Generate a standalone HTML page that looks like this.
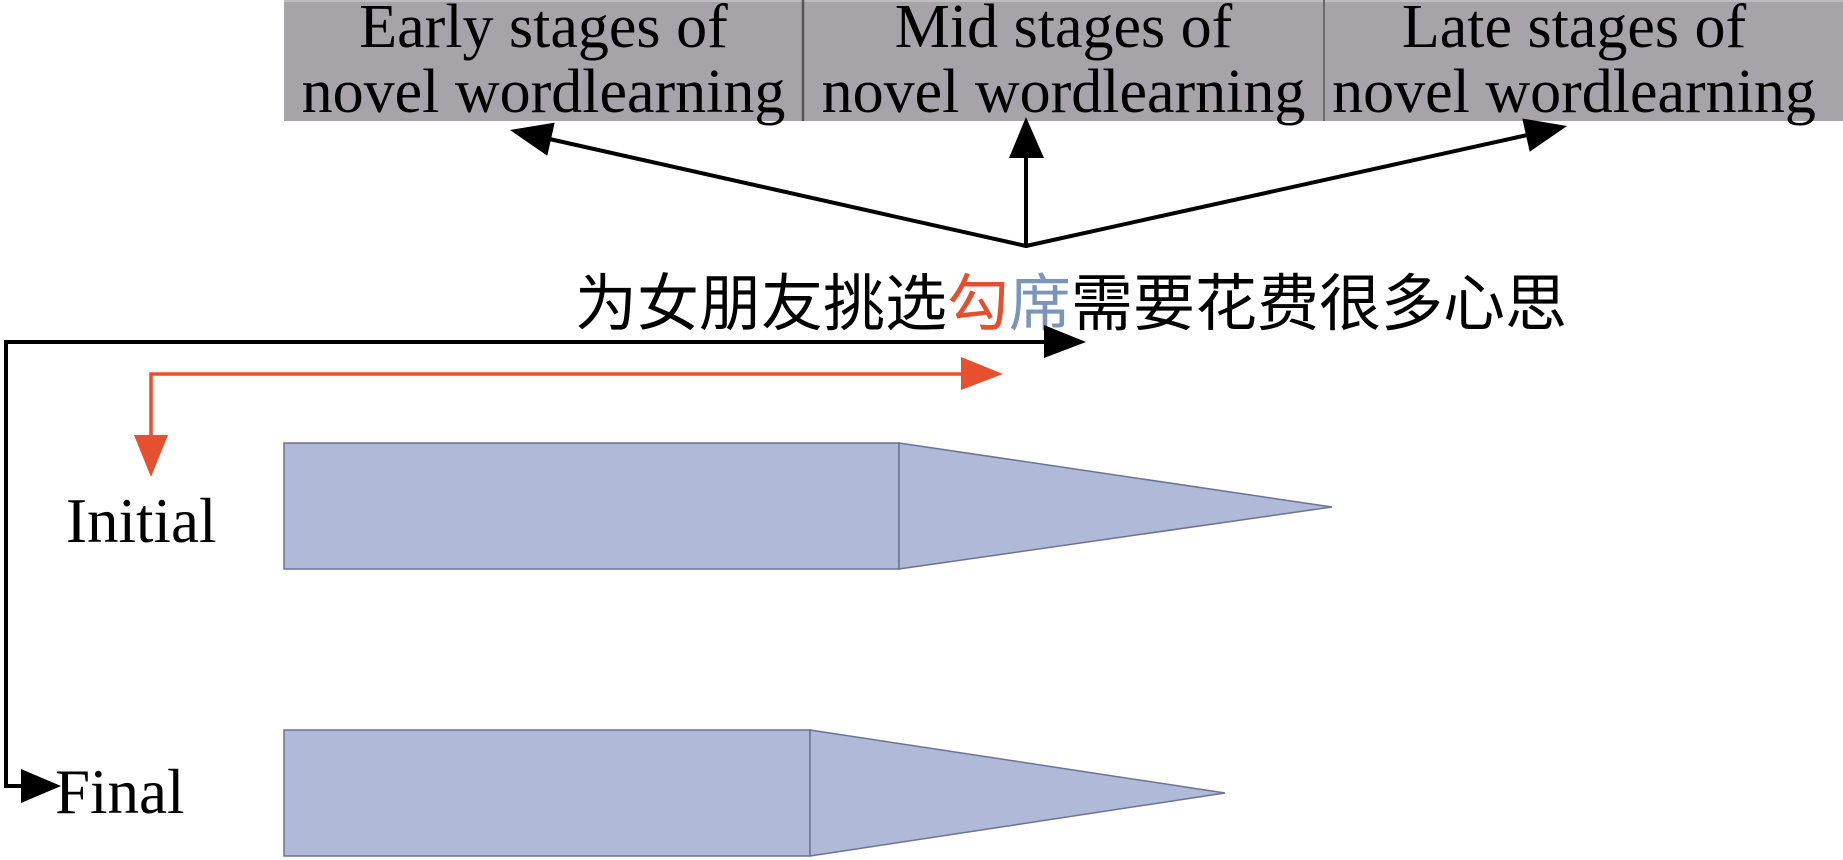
<!DOCTYPE html>
<html>
<head>
<meta charset="utf-8">
<style>
  html, body { margin:0; padding:0; background:#ffffff; }
  body { width:1843px; height:860px; overflow:hidden; }
  svg { display:block; }
  .lat { font-family: "Liberation Serif", "Times New Roman", serif; font-size:62px; fill:#000; }
  .cjk { font-family: "Liberation Sans", "Noto Sans CJK SC", "WenQuanYi Zen Hei", sans-serif; font-size:62px; fill:#000; }
</style>
</head>
<body>
<svg width="1843" height="860" viewBox="0 0 1843 860" xmlns="http://www.w3.org/2000/svg">
  <!-- Header gray band -->
  <rect x="284" y="0" width="1559" height="121" fill="#a6a4a9"/>
  <line x1="284" y1="1" x2="1843" y2="1" stroke="#bdbcc0" stroke-width="2"/>
  <line x1="803" y1="0" x2="803" y2="121" stroke="#55545a" stroke-width="2.5"/>
  <line x1="1324" y1="0" x2="1324" y2="121" stroke="#6a696e" stroke-width="2"/>

  <text class="lat" x="543.5" y="47" text-anchor="middle">Early stages of</text>
  <text class="lat" x="543.5" y="112" text-anchor="middle">novel wordlearning</text>
  <text class="lat" x="1063.5" y="47" text-anchor="middle">Mid stages of</text>
  <text class="lat" x="1063.5" y="112" text-anchor="middle">novel wordlearning</text>
  <text class="lat" x="1574" y="47" text-anchor="middle">Late stages of</text>
  <text class="lat" x="1574" y="112" text-anchor="middle">novel wordlearning</text>

  <!-- Black fan arrows from (1026,246) -->
  <g stroke="#000" stroke-width="4" fill="none" stroke-linecap="round" stroke-linejoin="round">
    <line x1="1026" y1="246" x2="545" y2="138"/>
    <line x1="1026" y1="246" x2="1026" y2="150"/>
    <line x1="1026" y1="246" x2="1532" y2="134"/>
  </g>
  <polygon points="510,130 554.7,122.6 547.3,155.8" fill="#000"/>
  <polygon points="1026,117 1009,158 1044,158" fill="#000"/>
  <polygon points="1567,126 1529.7,151.7 1522.3,118.5" fill="#000"/>

  <!-- Chinese sentence -->
  <text class="cjk" x="575" y="325">为女朋友挑选<tspan fill="#e4502f">勾</tspan><tspan fill="#7b95ba">席</tspan>需要花费很多心思</text>

  <!-- Black L connector -->
  <g stroke="#000" stroke-width="4" fill="none" stroke-linejoin="miter">
    <polyline points="1050,342 6,342 6,786 30,786"/>
  </g>
  <polygon points="1086,342 1044,325 1044,358" fill="#000"/>
  <polygon points="61,786 21,769 21,803" fill="#000"/>

  <!-- Red connector -->
  <g stroke="#e5512f" stroke-width="3.5" fill="none" stroke-linejoin="miter">
    <polyline points="965,374 151,374 151,440"/>
  </g>
  <polygon points="1003,374 961,357 961,390" fill="#e5512f"/>
  <polygon points="151,477 134,435 168,435" fill="#e5512f"/>

  <!-- Labels -->
  <text class="lat" x="66" y="542" style="font-size:63px">Initial</text>
  <text class="lat" x="55" y="813" style="font-size:63px">Final</text>

  <!-- Initial pencil shape -->
  <rect x="284" y="443" width="615" height="126" fill="#b0bad8" stroke="#6b7395" stroke-width="1.5"/>
  <polygon points="899,443 1332,507 899,569" fill="#b0bad8" stroke="#6b7395" stroke-width="1.5" stroke-linejoin="miter"/>

  <!-- Final pencil shape -->
  <rect x="284" y="730" width="526" height="126" fill="#b0bad8" stroke="#6b7395" stroke-width="1.5"/>
  <polygon points="810,730 1225,793 810,856" fill="#b0bad8" stroke="#6b7395" stroke-width="1.5" stroke-linejoin="miter"/>
</svg>
</body>
</html>
